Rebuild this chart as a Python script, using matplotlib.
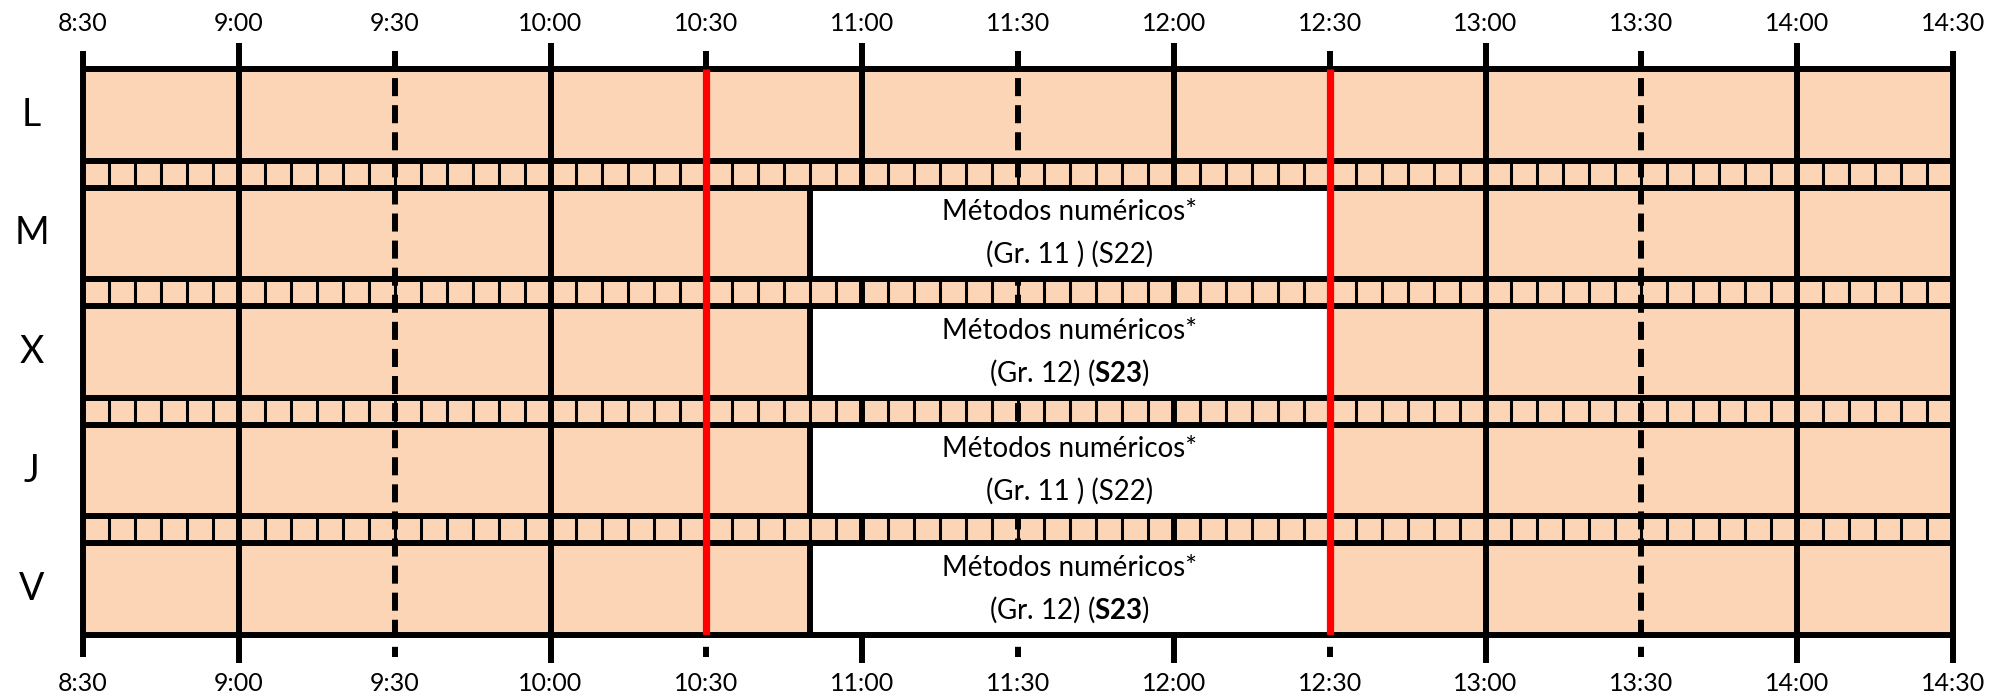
import matplotlib
matplotlib.use("Agg")
import matplotlib.pyplot as plt
from matplotlib.patches import Rectangle

# Timetable data
days = ["L", "M", "X", "J", "V"]
time_labels = ["8:30", "9:00", "9:30", "10:00", "10:30", "11:00", "11:30",
               "12:00", "12:30", "13:00", "13:30", "14:00", "14:30"]
red_marks = ["10:30", "12:30"]

# Classes (white blocks)
class_days = ["M", "X", "J", "V"]
class_start = ["10:50", "10:50", "10:50", "10:50"]
class_end = ["12:30", "12:30", "12:30", "12:30"]
class_names = ["Métodos numéricos*"] * 4
class_groups = ["Gr. 11 ", "Gr. 12", "Gr. 11 ", "Gr. 12"]
class_rooms = ["S22", "S23", "S22", "S23"]
room_bold = [False, True, False, True]

PEACH = "#FBD5B5"
RED = "#FF0000"


def hours(label):
    h, m = label.split(":")
    return int(h) + int(m) / 60


plt.rcParams["font.family"] = ["Lato", "DejaVu Sans"]
plt.rcParams["mathtext.fontset"] = "custom"
plt.rcParams["mathtext.rm"] = "Lato"
plt.rcParams["mathtext.bf"] = "Lato:bold"
plt.rcParams["lines.scale_dashes"] = False

fig = plt.figure(figsize=(19.92, 6.96), dpi=100)
ax = fig.add_axes([83 / 1992, 61 / 696, 1870 / 1992, 566 / 696])

row_h = 1.0
strip_h = 0.29
total = len(days) * row_h + (len(days) - 1) * strip_h
x0, x1 = hours(time_labels[0]), hours(time_labels[-1])
ax.set_xlim(x0, x1)
ax.set_ylim(total, 0)
ax.axis("off")

row_top = {d: i * (row_h + strip_h) for i, d in enumerate(days)}

# background
ax.add_patch(Rectangle((x0, 0), x1 - x0, total, facecolor=PEACH,
                       edgecolor="none", zorder=0))

# 5-minute marks inside the strips
n5 = int(round((x1 - x0) * 12))
for i in range(len(days) - 1):
    s0 = row_top[days[i]] + row_h
    for k in range(1, n5):
        ax.plot([x0 + k / 12] * 2, [s0, s0 + strip_h], color="black",
                lw=2.2, solid_capstyle="butt", zorder=2)

# main vertical lines and tick labels
lw = 4.3
for j, lab in enumerate(time_labels):
    x = hours(lab)
    on_hour = lab.endswith(":00")
    border = j == 0 or j == len(time_labels) - 1
    ext_top = -0.285 if on_hour else -0.195
    ext_bot = total + (0.305 if on_hour else 0.24)
    if border:
        ext_bot = total + 0.24 if j == 0 else total + 0.305
    style = "-" if (on_hour or border) else (0, (13, 6.5))
    ax.plot([x, x], [ext_top, ext_bot], color="black", lw=lw,
            linestyle=style, solid_capstyle="butt", dash_capstyle="butt",
            clip_on=False, zorder=3)
    ax.text(x, -0.49, lab, ha="center", va="center", fontsize=18)
    ax.text(x, total + 0.53, lab, ha="center", va="center", fontsize=18)

# class blocks
for d, a, b, name, grp, room, bold in zip(class_days, class_start, class_end,
                                          class_names, class_groups,
                                          class_rooms, room_bold):
    xa, xb = hours(a), hours(b)
    yt = row_top[d]
    ax.add_patch(Rectangle((xa, yt), xb - xa, row_h, facecolor="white",
                           edgecolor="none", zorder=4))
    ax.plot([xa, xa], [yt, yt + row_h], color="black", lw=lw,
            solid_capstyle="butt", zorder=5)
    xc = (xa + xb) / 2
    room_txt = r"$\mathbf{%s}$" % room if bold else room
    ax.text(xc, yt + 0.27, name, ha="center", va="center", fontsize=20,
            zorder=6)
    ax.text(xc, yt + 0.73, "(%s) (%s)" % (grp, room_txt), ha="center",
            va="center", fontsize=20, zorder=6)

# horizontal lines
ax.plot([x0, x1], [0, 0], color="black", lw=lw, zorder=5, clip_on=False)
ax.plot([x0, x1], [total, total], color="black", lw=lw, zorder=5,
        clip_on=False)
for i in range(len(days) - 1):
    s0 = row_top[days[i]] + row_h
    for y in (s0, s0 + strip_h):
        ax.plot([x0, x1], [y, y], color="black", lw=lw, zorder=5)

# red marks
for lab in red_marks:
    x = hours(lab)
    ax.plot([x, x], [0, total], color=RED, lw=5.2, solid_capstyle="butt",
            zorder=7)

# day labels
for d in days:
    ax.text(x0 - 0.165, row_top[d] + row_h / 2, d, ha="center", va="center",
            fontsize=27)

fig.savefig("out.png", dpi=100, facecolor="white")
